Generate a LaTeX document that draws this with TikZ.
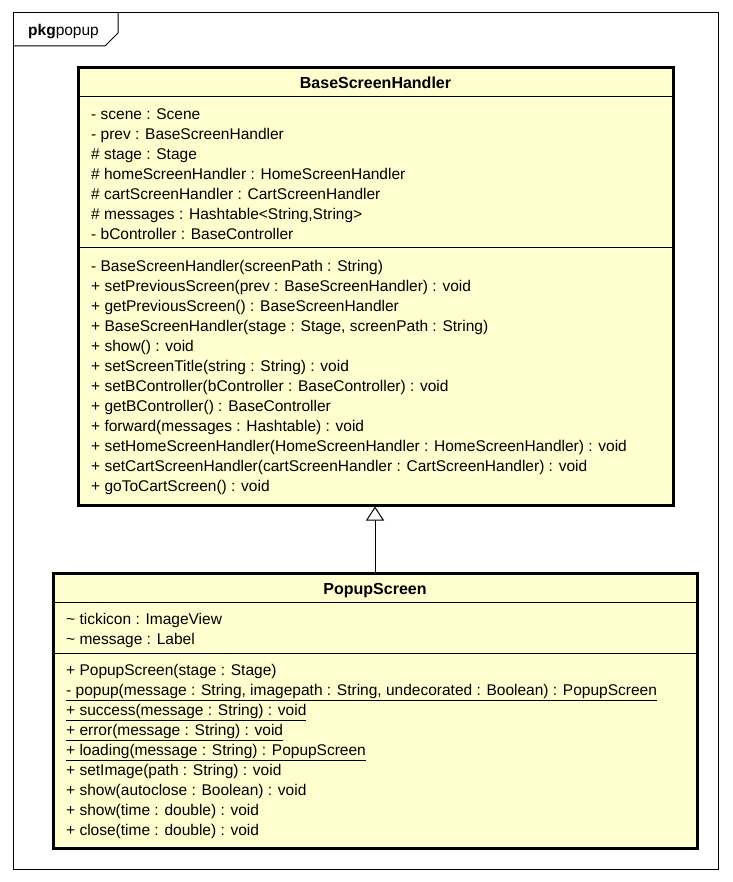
\documentclass[tikz,border=0pt]{standalone}
\usepackage{fontspec}
\setmainfont{Liberation Sans}
\usetikzlibrary{arrows.meta,positioning}
\definecolor{umlYellow}{HTML}{FEFECE}

\begin{document}
\begin{tikzpicture}[
    x=1pt, y=-1pt,
    classBox/.style={rectangle, draw, fill=umlYellow, line width=3pt},
    className/.style={anchor=base, inner sep=0pt, font=\fontsize{16}{20}\selectfont\bfseries},
    memberList/.style={anchor=north west, inner sep=0pt, align=left, font=\fontsize{15.5}{20}\selectfont},
    divider/.style={line width=1pt},
    frame/.style={line width=1pt},
    extends/.style={-{Triangle[open, length=14pt, width=18pt]}, line width=1pt}
  ]
  \useasboundingbox (0,0) rectangle (732,882);

  % Package frame
  \draw[frame] (13,13) rectangle (718,869);
  \draw[frame] (13,46) -- (105,46) -- (118,33) -- (118,13);
  \node[anchor=base west, inner sep=0pt, font=\fontsize{15.5}{20}\selectfont] (pkgLabel) at (28,36) {\textbf{pkg}popup};

  % Base class
  \node[classBox, minimum width=595pt, minimum height=437pt] (baseHandler) at (375.5,286.5) {};
  \draw[divider] (78,97) -- (673,97);
  \draw[divider] (78,248) -- (673,248);
  \node[className] (baseName) at (375.5,89) {BaseScreenHandler};
  \node[memberList] (baseAttrs) at (91,105.5) {\strut
    - scene : Scene\\
    - prev : BaseScreenHandler\\
    \# stage : Stage\\
    \# homeScreenHandler : HomeScreenHandler\\
    \# cartScreenHandler : CartScreenHandler\\
    \# messages : Hashtable<String,String>\\
    - bController : BaseController};
  \node[memberList] (baseOps) at (91,257) {\strut
    - BaseScreenHandler(screenPath : String)\\
    + setPreviousScreen(prev : BaseScreenHandler) : void\\
    + getPreviousScreen() : BaseScreenHandler\\
    + BaseScreenHandler(stage : Stage, screenPath : String)\\
    + show() : void\\
    + setScreenTitle(string : String) : void\\
    + setBController(bController : BaseController) : void\\
    + getBController() : BaseController\\
    + forward(messages : Hashtable) : void\\
    + setHomeScreenHandler(HomeScreenHandler : HomeScreenHandler) : void\\
    + setCartScreenHandler(cartScreenHandler : CartScreenHandler) : void\\
    + goToCartScreen() : void};

  % Popup class
  \node[classBox, minimum width=644pt, minimum height=275pt] (popupScreen) at (375,710.5) {};
  \draw[divider] (53,602) -- (697,602);
  \draw[divider] (53,653) -- (697,653);
  \node[className] (popupName) at (375,594) {PopupScreen};
  \node[memberList] (popupAttrs) at (66,610.5) {\strut
    \textasciitilde{} tickicon : ImageView\\
    \textasciitilde{} message : Label};
  \node[memberList] (popupOps) at (66,661.5) {\strut
    + PopupScreen(stage : Stage)\\
    \underline{- popup(message : String, imagepath : String, undecorated : Boolean) : PopupScreen}\\
    \underline{+ success(message : String) : void}\\
    \underline{+ error(message : String) : void}\\
    \underline{+ loading(message : String) : PopupScreen}\\
    + setImage(path : String) : void\\
    + show(autoclose : Boolean) : void\\
    + show(time : double) : void\\
    + close(time : double) : void};

  % Generalization
  \draw[extends] (popupScreen.north) -- (popupScreen.north |- baseHandler.south);

\end{tikzpicture}
\end{document}
